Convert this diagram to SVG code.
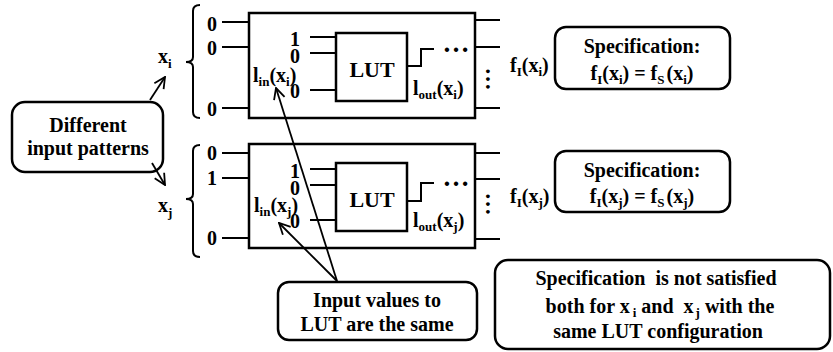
<svg xmlns="http://www.w3.org/2000/svg" width="833" height="352" viewBox="0 0 833 352" font-family="'Liberation Serif','Times New Roman',serif" font-weight="bold">
<defs>
<style>
text{font-family:'Liberation Serif','Times New Roman',serif;font-weight:700;fill:#000;font-size:20px}
.s{font-size:13px}
.m{text-anchor:middle}
.ln{stroke:#000;stroke-width:2;fill:none}
.box{stroke:#000;stroke-width:2.5;fill:#fff}
.rb{stroke:#000;stroke-width:2.5;fill:#fff}
.ar{stroke:#000;stroke-width:1.8;fill:none;marker-end:url(#ah)}
</style>
<marker id="ah" markerUnits="userSpaceOnUse" markerWidth="14" markerHeight="14" viewBox="0 0 14 14" refX="13" refY="7" orient="auto">
<path d="M2,1.5 L13,7 L2,12.5" fill="none" stroke="#000" stroke-width="1.8"/>
</marker>
</defs>
<rect width="833" height="352" fill="#fff"/>

<g id="pattern-i">
<path class="ln" d="M200,5 Q193,5 193,11 L193,57 Q193,62 186,62 Q193,62 193,67 L193,112 Q193,118 200,118"/>
<text x="158" y="63">x<tspan class="s" dy="5">i</tspan></text>
<text x="212" y="31" class="m">0</text>
<text x="212" y="55" class="m">0</text>
<text x="212" y="116" class="m">0</text>
<path class="ln" d="M222,22 H249 M222,47 H249 M222,108 H249"/>
</g>

<g id="circuit-i">
<rect class="box" x="249" y="13" width="226" height="105"/>
<path class="ln" d="M310,37 H336 M310,53 H336 M310,90 H336"/>
<text x="295" y="46" class="m">1</text>
<text x="295" y="63" class="m">0</text>
<text x="295" y="98" class="m">0</text>
<text x="253" y="82">l<tspan class="s" dy="4">in</tspan><tspan dy="-4">(x</tspan><tspan class="s" dy="4">i</tspan><tspan dy="-4">)</tspan></text>
<rect class="box" x="336" y="33" width="71" height="68"/>
<text x="372" y="77" class="m" style="font-size:22px">LUT</text>
<path class="ln" d="M407,66 H421 V49 H434"/>
<text x="456" y="52" class="m" style="font-size:27px">…</text>
<text x="413" y="95">l<tspan class="s" dy="4">out</tspan><tspan dy="-4">(x</tspan><tspan class="s" dy="4">i</tspan><tspan dy="-4">)</tspan></text>
<text x="0" y="0" class="m" style="font-size:23px" transform="translate(486,79) rotate(90)">…</text>
<path class="ln" d="M475,20 H500 M475,47 H500 M475,108 H500"/>
<text x="510" y="72">f<tspan class="s" dy="4">I</tspan><tspan dy="-4">(x</tspan><tspan class="s" dy="4">i</tspan><tspan dy="-4">)</tspan></text>
</g>

<g id="spec-i">
<rect class="rb" x="555" y="27" width="175" height="62" rx="11"/>
<text x="642" y="53" class="m">Specification:</text>
<text x="642" y="80" class="m">f<tspan class="s" dy="4">I</tspan><tspan dy="-4">(x</tspan><tspan class="s" dy="4">i</tspan><tspan dy="-4">) = f</tspan><tspan class="s" dy="4">S</tspan><tspan dy="-4" dx="2">(x</tspan><tspan class="s" dy="4">i</tspan><tspan dy="-4">)</tspan></text>
</g>

<g id="different-patterns">
<rect class="rb" x="12" y="102" width="151" height="70" rx="13"/>
<text x="88" y="132" class="m">Different</text>
<text x="88" y="155" class="m">input patterns</text>
</g>

<g id="pattern-j">
<path class="ln" d="M200,145 Q193,145 193,151 L193,194 Q193,199 186,199 Q193,199 193,204 L193,251 Q193,257 200,257"/>
<text x="158" y="212">x<tspan class="s" dy="5">j</tspan></text>
<text x="212" y="160" class="m">0</text>
<text x="212" y="185" class="m">1</text>
<text x="212" y="245" class="m">0</text>
<path class="ln" d="M222,153 H249 M222,178 H249 M222,238 H249"/>
</g>

<g id="circuit-j">
<rect class="box" x="249" y="144" width="226" height="104"/>
<path class="ln" d="M310,169 H336 M310,185 H336 M310,220 H336"/>
<text x="295" y="178" class="m">1</text>
<text x="295" y="195" class="m">0</text>
<text x="295" y="228" class="m">0</text>
<text x="254" y="212">l<tspan class="s" dy="4">in</tspan><tspan dy="-4">(x</tspan><tspan class="s" dy="4">j</tspan><tspan dy="-4">)</tspan></text>
<rect class="box" x="336" y="163" width="71" height="68"/>
<text x="372" y="207" class="m" style="font-size:22px">LUT</text>
<path class="ln" d="M407,201 H421 V183 H434"/>
<text x="456" y="186" class="m" style="font-size:27px">…</text>
<text x="413" y="227">l<tspan class="s" dy="4">out</tspan><tspan dy="-4">(x</tspan><tspan class="s" dy="4">j</tspan><tspan dy="-4">)</tspan></text>
<text x="0" y="0" class="m" style="font-size:23px" transform="translate(486,204) rotate(90)">…</text>
<path class="ln" d="M475,153 H500 M475,179 H500 M475,239 H500"/>
<text x="510" y="203">f<tspan class="s" dy="4">I</tspan><tspan dy="-4">(x</tspan><tspan class="s" dy="4">j</tspan><tspan dy="-4">)</tspan></text>
</g>

<g id="spec-j">
<rect class="rb" x="555" y="151" width="175" height="61" rx="11"/>
<text x="642" y="177" class="m">Specification:</text>
<text x="642" y="203" class="m">f<tspan class="s" dy="4">I</tspan><tspan dy="-4">(x</tspan><tspan class="s" dy="4">j</tspan><tspan dy="-4">) = f</tspan><tspan class="s" dy="4">S</tspan><tspan dy="-4" dx="2">(x</tspan><tspan class="s" dy="4">j</tspan><tspan dy="-4">)</tspan></text>
</g>

<g id="input-values">
<rect class="rb" x="278" y="282" width="199" height="58" rx="11"/>
<text x="377" y="307" class="m">Input values to</text>
<text x="377" y="331" class="m">LUT are the same</text>
</g>

<g id="conclusion">
<rect class="rb" x="495" y="260" width="335" height="89" rx="13"/>
<text x="656" y="285" class="m" xml:space="preserve">Specification  is not satisfied</text>
<text x="660" y="313" class="m" xml:space="preserve">both for x<tspan class="s" dy="4" dx="3">i</tspan><tspan dy="-4"> and  x</tspan><tspan class="s" dy="4" dx="2">j</tspan><tspan dy="-4"> with the</tspan></text>
<text x="658" y="338" class="m">same LUT configuration</text>
</g>

<g id="connectors">
<path class="ar" d="M150,100 L165,77"/>
<path class="ar" d="M152,163 L165,185"/>
<path class="ar" d="M337,281 L276,88"/>
<path class="ar" d="M337,281 L279,223"/>
</g>
</svg>
